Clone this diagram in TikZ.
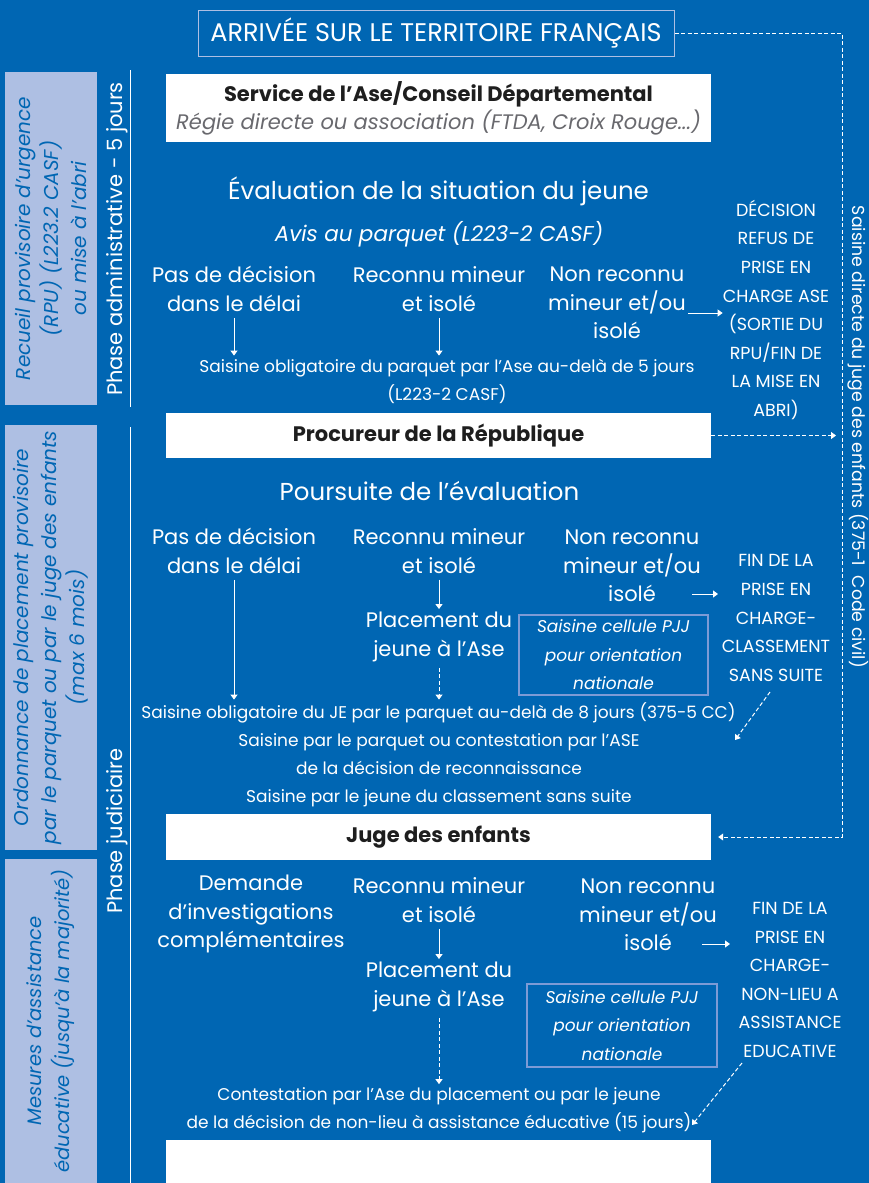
\documentclass[tikz,border=0pt]{standalone}
\usepackage{fontspec}
\setmainfont{Poppins}
\usetikzlibrary{arrows.meta,calc}
\definecolor{bgblue}{RGB}{0,102,179}
\definecolor{sidebox}{RGB}{174,191,227}
\definecolor{pjjline}{RGB}{125,155,214}
\definecolor{greytxt}{RGB}{105,105,110}
\definecolor{darktxt}{RGB}{30,30,30}
\begin{document}
\begin{tikzpicture}[x=1pt,y=-1pt,
  big/.style={text=white, inner sep=0pt, font=\fontsize{24.5}{28}\selectfont},
  itl/.style={text=white, inner sep=0pt, font=\fontsize{21.5}{24}\selectfont\itshape},
  col/.style={text=white, align=center, inner sep=0pt, font=\fontsize{21}{28.5}\selectfont},
  small/.style={text=white, align=center, inner sep=0pt, font=\fontsize{17}{28}\selectfont},
  caps/.style={text=white, align=center, inner sep=0pt, font=\fontsize{17.5}{28.6}\selectfont},
  wbox/.style={fill=white, minimum width=545pt, inner sep=0pt, align=center, text=darktxt},
  pjj/.style={draw=pjjline, line width=1.2pt, text=white, align=center, inner sep=0pt, font=\fontsize{17}{28.5}\selectfont\itshape},
  side/.style={fill=sidebox, rotate=90, text=bgblue, align=center, inner sep=0pt, minimum height=92pt, font=\fontsize{20}{28}\selectfont\itshape},
  phase/.style={rotate=90, text=white, inner sep=0pt, font=\fontsize{21}{24}\selectfont},
  arr/.style={draw=white, line width=1pt, -{Triangle[length=5pt,width=7pt]}},
  darr/.style={arr, dash pattern=on 4pt off 2.5pt}
]
\path[use as bounding box, fill=bgblue] (0,0) rectangle (869,1183);

% left column
\node[side, minimum width=333pt] (sb1) at (51,238.5) {Recueil provisoire d’urgence\\(RPU) (L223.2 CASF)\\ou mise à l’abri};
\node[side, minimum width=425pt] (sb2) at (51,637.5) {Ordonnance de placement provisoire\\par le parquet ou par le juge des enfants\\(max 6 mois)};
\node[side, minimum width=324pt, font=\fontsize{19.5}{28}\selectfont\itshape] (sb3) at (51,1021) {Mesures d’assistance\\éducative (jusqu’à la majorité)};
\draw[white, line width=0.8pt] (130,70) -- (130,407);
\draw[white, line width=0.8pt] (130,427) -- (130,1183);
\node[phase] (ph1) at (117,239) {Phase administrative - 5 jours};
\node[phase] (ph2) at (117,831) {Phase judiciaire};

% title
\node[draw=sidebox, line width=1pt, minimum width=476pt, minimum height=46pt, inner sep=0pt, text=white,
      font=\fontsize{25.5}{28}\selectfont] (arr) at (436,33) {ARRIVÉE SUR LE TERRITOIRE FRANÇAIS};

% white boxes
\node[wbox, minimum height=68pt, font=\fontsize{21}{28}\selectfont] (svc) at (438.5,108)
  {\textbf{Service de l’Ase/Conseil Départemental}\\{\color{greytxt}\itshape Régie directe ou association (FTDA, Croix Rouge...)}};
\node[wbox, minimum height=45pt, font=\fontsize{21}{24}\bfseries\selectfont] (proc) at (438.5,435.5) {Procureur de la République};
\node[wbox, minimum height=46pt, font=\fontsize{21}{24}\bfseries\selectfont] (juge) at (438.5,837) {Juge des enfants};
\node[wbox, minimum height=50pt] (bot) at (438.5,1165) {};

% section 1
\node[big] (evl) at (438.5,191) {Évaluation de la situation du jeune};
\node[itl] (avis) at (439,234) {Avis au parquet (L223-2 CASF)};
\node[col] (c1a) at (234,289) {Pas de décision\\dans le délai};
\node[col] (c2a) at (439,289) {Reconnu mineur\\et isolé};
\node[col] (c3a) at (617,303) {Non reconnu\\mineur et/ou\\isolé};
\node[caps] (k1) at (776,310) {DÉCISION\\REFUS DE\\PRISE EN\\CHARGE ASE\\(SORTIE DU\\RPU/FIN DE\\LA MISE EN\\ABRI)};
\node[small] (s1) at (447,381) {Saisine obligatoire du parquet par l’Ase au-delà de 5 jours\\(L223-2 CASF)};
\draw[arr, shorten <=6pt, shorten >=3pt] (c1a.south) -- (c1a.south |- s1.north);
\draw[arr, shorten <=6pt, shorten >=3pt] (c2a.south) -- (c2a.south |- s1.north);
\coordinate (r1) at (688,313);
\draw[arr] (r1) -- (r1 -| k1.west);

% section 2
\node[big] (pours) at (429.5,491) {Poursuite de l’évaluation};
\node[col] (c1b) at (234,551) {Pas de décision\\dans le délai};
\node[col] (c2b) at (439,551) {Reconnu mineur\\et isolé};
\node[col] (c3b) at (632,566) {Non reconnu\\mineur et/ou\\isolé};
\node[caps] (k2) at (776,618) {FIN DE LA\\PRISE EN\\CHARGE-\\CLASSEMENT\\SANS SUITE};
\node[col] (pl1) at (439,637) {Placement du\\jeune à l’Ase};
\node[pjj, minimum width=189pt, minimum height=80pt] (pjj1) at (613.5,655) {Saisine cellule PJJ\\pour orientation\\nationale};
\node[small] (s2) at (438.5,713) {Saisine obligatoire du JE par le parquet au-delà de 8 jours (375-5 CC)};
\node[small] (s3) at (439,770) {Saisine par le parquet ou contestation par l’ASE\\de la décision de reconnaissance\\Saisine par le jeune du classement sans suite};
\draw[arr, shorten <=6pt, shorten >=3pt] (c1b.south) -- (c1b.south |- s2.north);
\draw[arr, shorten <=6pt, shorten >=3pt] (c2b.south) -- (c2b.south |- pl1.north);
\draw[darr, shorten <=6pt, shorten >=3pt] (pl1.south) -- (pl1.south |- s2.north);
\coordinate (r2) at (692,594);
\draw[arr] (r2) -- ++(26,0);
\coordinate (d1s) at (770,692);
\coordinate (d1e) at (735,740);
\draw[darr] (d1s) -- (d1e);

% section 3
\node[col] (c1c) at (251,914) {Demande\\d’investigations\\complémentaires};
\node[col] (c2c) at (439,900) {Reconnu mineur\\et isolé};
\node[col] (c3c) at (648,915) {Non reconnu\\mineur et/ou\\isolé};
\node[caps] (k3) at (790,980) {FIN DE LA\\PRISE EN\\CHARGE-\\NON-LIEU A\\ASSISTANCE\\EDUCATIVE};
\node[col] (pl2) at (439,987) {Placement du\\jeune à l’Ase};
\node[pjj, minimum width=190pt, minimum height=83pt] (pjj2) at (622,1025.5) {Saisine cellule PJJ\\pour orientation\\nationale};
\node[small] (cont) at (439,1110) {Contestation par l’Ase du placement ou par le jeune\\de la décision de non-lieu à assistance éducative (15 jours)};
\draw[arr, shorten <=6pt, shorten >=3pt] (c2c.south) -- (c2c.south |- pl2.north);
\draw[darr, shorten <=6pt, shorten >=3pt] (pl2.south) -- (pl2.south |- cont.north);
\coordinate (r3) at (702,944);
\draw[arr] (r3) -- ++(28,0);
\coordinate (d2s) at (742,1063);
\coordinate (d2e) at (692,1125);
\draw[darr] (d2s) -- (d2e);

% right side
\coordinate (rc) at (842,34);
\draw[darr] (arr.east) -- (arr.east -| rc) -- (rc |- juge.east) -- ($(juge.east)+(7,0)$);
\draw[darr] (proc.east) -- ($(proc.east -| rc)+(-6,0)$);
\node[rotate=-90, text=white, inner sep=0pt, font=\fontsize{17.3}{20}\selectfont] (sdj) at (858,437)
  {Saisine directe du juge des enfants (375-1\ \ Code civil)};
\end{tikzpicture}
\end{document}
